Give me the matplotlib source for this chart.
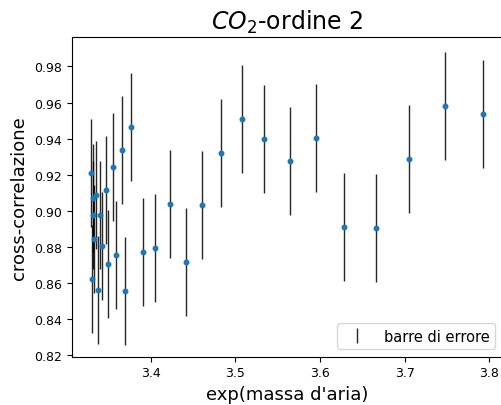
import matplotlib
matplotlib.use("Agg")
import matplotlib.pyplot as plt
import numpy as np

# data
x_vals = [3.3296, 3.3320, 3.3351, 3.3312, 3.3398, 3.3473, 3.3556, 3.3658, 3.3769,
          3.3332, 3.3422, 3.3497, 3.3587, 3.3300, 3.3371, 3.3689, 3.3902, 3.4052,
          3.4223, 3.4411, 3.4607, 3.4831, 3.5075, 3.5342, 3.5641, 3.5948, 3.6287,
          3.6661, 3.7051, 3.7476, 3.7924]
y_vals = [0.9211, 0.9070, 0.9085, 0.8975, 0.8975, 0.9115, 0.9244, 0.9336, 0.9462,
          0.8843, 0.8804, 0.8705, 0.8756, 0.8622, 0.8559, 0.8555, 0.8771, 0.8792,
          0.9036, 0.8714, 0.9033, 0.9318, 0.9510, 0.9399, 0.9277, 0.9403, 0.8911,
          0.8902, 0.9288, 0.9582, 0.9534]
y_err = [0.03] * len(y_vals)

x_ticks = [3.4, 3.5, 3.6, 3.7, 3.8]
y_ticks = [0.82, 0.84, 0.86, 0.88, 0.90, 0.92, 0.94, 0.96, 0.98]

fig = plt.figure(figsize=(5.01, 4.06), dpi=100)
ax = fig.add_axes([71.7/501, (406-357.7)/406, (502.5-71.7)/501, (357.7-38.3)/406])

ax.errorbar(x_vals, y_vals, yerr=y_err, fmt='none', ecolor='black', elinewidth=1,
            alpha=0.85, label='barre di errore')
ax.plot(x_vals, y_vals, '.', color='#1f77b4', markersize=6.5)

ax.set_xlim(3.3065, 3.8155)
ax.set_ylim(0.8189, 0.9962)
ax.set_xticks(x_ticks)
ax.set_yticks(y_ticks)
ax.set_yticklabels([f"{t:.2f}" for t in y_ticks])
ax.tick_params(labelsize=9)

ax.set_title('$CO_2$-ordine 2', fontsize=17)
ax.set_xlabel("exp(massa d'aria)", fontsize=13)
ax.set_ylabel('cross-correlazione', fontsize=13)
ax.legend(loc='lower right', fontsize=10.5)

fig.savefig('out.png', dpi=100)
